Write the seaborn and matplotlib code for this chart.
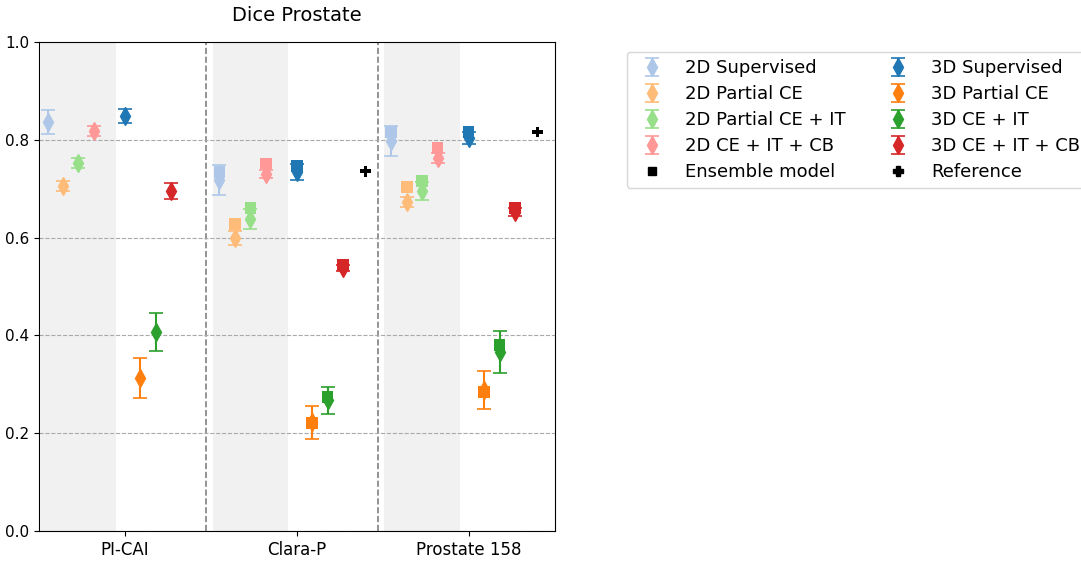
import numpy as np
import pandas as pd
import seaborn as sns
import matplotlib
matplotlib.use("Agg")
import matplotlib.pyplot as plt
from matplotlib.lines import Line2D

datasets = ["PI-CAI", "Clara-P", "Prostate 158"]
methods = ["2D Supervised", "2D Partial CE", "2D Partial CE + IT", "2D CE + IT + CB",
           "3D Supervised", "3D Partial CE", "3D CE + IT", "3D CE + IT + CB"]

# mean dice per method (rows) for each dataset (cols)
mean_dice = [
    [0.836, 0.718, 0.798],
    [0.706, 0.599, 0.673],
    [0.753, 0.638, 0.695],
    [0.818, 0.730, 0.763],
    [0.849, 0.734, 0.804],
    [0.313, 0.222, 0.288],
    [0.407, 0.267, 0.366],
    [0.695, 0.538, 0.652],
]
std_dice = [
    [0.025, 0.031, 0.030],
    [0.010, 0.015, 0.011],
    [0.010, 0.020, 0.018],
    [0.010, 0.008, 0.010],
    [0.014, 0.016, 0.012],
    [0.040, 0.034, 0.039],
    [0.039, 0.027, 0.043],
    [0.016, 0.007, 0.008],
]
# ensemble results (no ensemble for PI-CAI)
ensemble_dice = [
    [np.nan, 0.734, 0.816],
    [np.nan, 0.628, 0.703],
    [np.nan, 0.660, 0.716],
    [np.nan, 0.752, 0.783],
    [np.nan, 0.746, 0.816],
    [np.nan, 0.221, 0.284],
    [np.nan, 0.274, 0.380],
    [np.nan, 0.544, 0.660],
]
reference_dice = [np.nan, 0.736, 0.816]

offsets = [-0.45, -0.36, -0.27, -0.18, 0.0, 0.09, 0.18, 0.27]
ref_offset = 0.40

tab20 = sns.color_palette("tab20")
colors = [tab20[1], tab20[3], tab20[5], tab20[7], tab20[0], tab20[2], tab20[4], tab20[6]]

rows = []
for i, m in enumerate(methods):
    for j, d in enumerate(datasets):
        rows.append({"method": m, "x": j + offsets[i], "mean": mean_dice[i][j],
                     "std": std_dice[i][j], "ens": ensemble_dice[i][j]})
df = pd.DataFrame(rows)
ref_df = pd.DataFrame({"x": np.arange(3) + ref_offset, "ref": reference_dice})

plt.rcParams["font.family"] = ["DejaVu Sans"]

fig = plt.figure(figsize=(10.81, 5.61), dpi=100)
ax = fig.add_axes([0.036, 0.0535, 0.477, 0.8715])

for j in range(3):
    ax.axvspan(j - 0.49, j - 0.05, color="lightgray", alpha=0.3, lw=0, zorder=0)
# separators halfway between the reference marker and the next group
for xv in [0.475, 1.475]:
    ax.axvline(xv, color="gray", ls="--", lw=1.2, zorder=1)
for yv in [0.0, 0.2, 0.4, 0.6, 0.8]:
    ax.axhline(yv, color="darkgray", ls="--", lw=0.8, zorder=1)

handles = []
for i, m in enumerate(methods):
    sub = df[df["method"] == m]
    h = ax.errorbar(sub["x"], sub["mean"], yerr=sub["std"], fmt="d", color=colors[i],
                    markersize=9, capsize=5, elinewidth=1.5, capthick=1.2, zorder=3)
    handles.append(h)
    sns.scatterplot(data=sub, x="x", y="ens", marker="s", color=colors[i], s=70,
                    edgecolor="none", ax=ax, zorder=4, legend=False)

sns.scatterplot(data=ref_df, x="x", y="ref", marker="P", color="black", s=60,
                edgecolor="none", ax=ax, zorder=4, legend=False)

ens_h = Line2D([], [], marker="s", color="black", ls="none", markersize=6)
ref_h = Line2D([], [], marker="P", color="black", ls="none", markersize=7)
leg_handles = handles[:4] + [ens_h] + handles[4:] + [ref_h]
leg_labels = methods[:4] + ["Ensemble model"] + methods[4:] + ["Reference"]
ax.legend(leg_handles, leg_labels, ncol=2, loc="upper left", bbox_to_anchor=(1.14, 0.98),
          fontsize=13, frameon=True, columnspacing=1.95, labelspacing=0.44,
          borderaxespad=0)

ax.set_xlim(-0.5, 2.5)
ax.set_ylim(0, 1.0)
ax.set_xticks(range(3))
ax.set_xticklabels(datasets, fontsize=12)
ax.set_yticks([0.0, 0.2, 0.4, 0.6, 0.8, 1.0])
ax.set_yticklabels(["0.0", "0.2", "0.4", "0.6", "0.8", "1.0"], fontsize=11)
ax.set_xlabel("")
ax.set_ylabel("")
ax.set_title("Dice Prostate", fontsize=14, pad=15)

fig.savefig("out.png", dpi=100)
